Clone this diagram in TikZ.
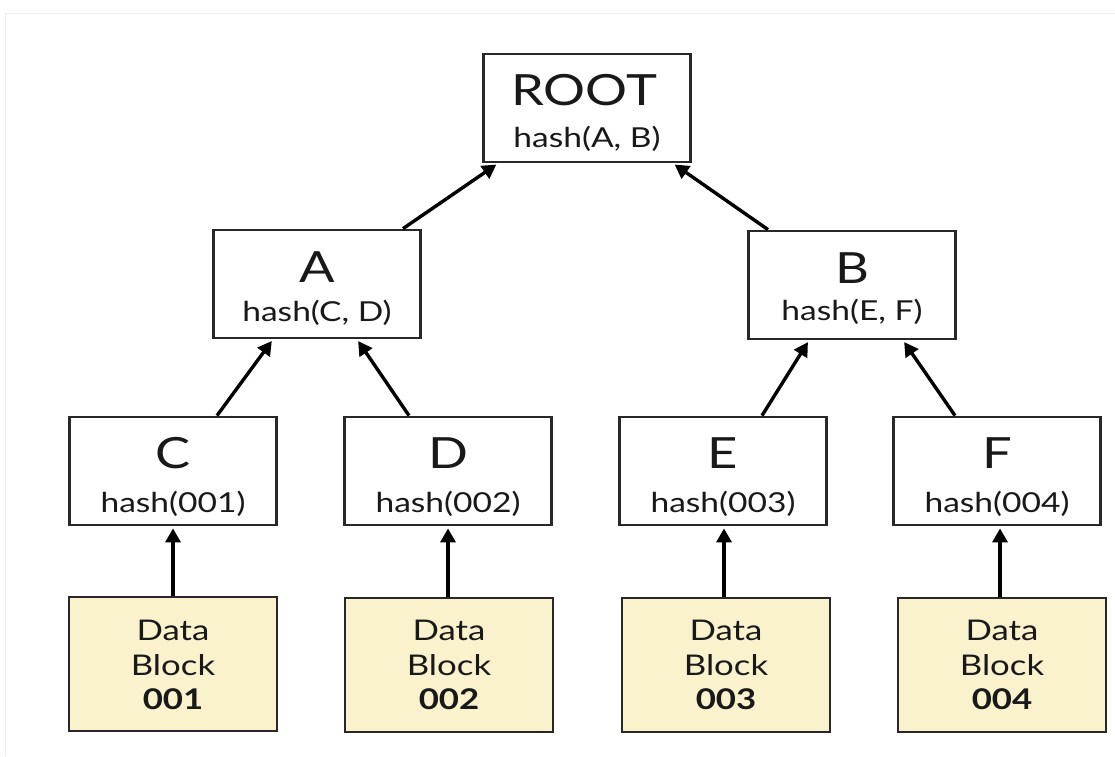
\documentclass[tikz,border=0pt]{standalone}
\usepackage{fontspec}
\setmainfont[FakeStretch=1.22]{Lato}
\usetikzlibrary{arrows.meta}
\definecolor{boxline}{RGB}{40,40,40}
\definecolor{datafill}{RGB}{250,242,204}
\definecolor{txt}{RGB}{25,25,25}
\definecolor{frame}{RGB}{238,238,238}
\tikzset{
  hbox/.style={draw=boxline, line width=2.8pt, fill=white, minimum width=207pt, minimum height=108pt, inner sep=0pt},
  dbox/.style={draw=boxline, line width=2.8pt, fill=datafill, minimum width=208pt, minimum height=134pt, inner sep=0pt},
  bigtxt/.style={anchor=base, inner sep=0pt, text=txt, font=\fontsize{43}{43}\selectfont},
  smalltxt/.style={anchor=base, inner sep=0pt, text=txt, font=\fontsize{27.5}{27.5}\selectfont},
  datatxt/.style={anchor=base, inner sep=0pt, text=txt, font=\fontsize{28.5}{28.5}\selectfont},
  arr/.style={draw=black, line width=3.4pt, -{Triangle[length=14pt,width=15pt]}, shorten >=2pt},
}
\begin{document}
\begin{tikzpicture}[x=1pt,y=-1pt]
\useasboundingbox (0,0) rectangle (1115,756);
\draw[frame, line width=1pt] (5,756) -- (5,13) -- (1115,13);
% hash boxes
\node[hbox] (root) at (587,108) {};
\node[hbox] (a) at (317,284) {};
\node[hbox] (b) at (852,285) {};
\node[hbox] (c) at (173,471) {};
\node[hbox] (d) at (448,471) {};
\node[hbox] (e) at (723,471) {};
\node[hbox] (f) at (997,471) {};
% data boxes
\node[dbox] (d1) at (173,664) {};
\node[dbox] (d2) at (449,665) {};
\node[dbox] (d3) at (726,665) {};
\node[dbox] (d4) at (1002,665) {};
% texts
\node[bigtxt] (troot) at (584,105) {ROOT};
\node[smalltxt] (sroot) at (587,147) {hash(A, B)};
\node[bigtxt] (ta) at (317,282) {A};
\node[smalltxt] (sa) at (317,321) {hash(C, D)};
\node[bigtxt] (tb) at (852,283) {B};
\node[smalltxt] (sb) at (852,320) {hash(E, F)};
\node[bigtxt] (tc) at (173,468) {C};
\node[smalltxt] (sc) at (173,512) {hash(001)};
\node[bigtxt] (td) at (448,468) {D};
\node[smalltxt] (sd) at (448,512) {hash(002)};
\node[bigtxt] (te) at (723,468) {E};
\node[smalltxt] (se) at (723,512) {hash(003)};
\node[bigtxt] (tf) at (997,468) {F};
\node[smalltxt] (sf) at (997,512) {hash(004)};
\foreach \n/\x/\v in {1/173/001,2/449/002,3/726/003,4/1002/004}{
  \node[datatxt] (da\n) at (\x,640) {Data};
  \node[datatxt] (bl\n) at (\x,675) {Block};
  \node[datatxt, font=\fontsize{28.5}{28.5}\selectfont\bfseries] (nu\n) at (\x,709) {\v};
}
% arrows
\draw[arr] (a.north -| 403,0) -- (root.south -| 498,0);
\draw[arr] (b.north -| 768,0) -- (root.south -| 673,0);
\draw[arr] (c.north -| 217,0) -- (a.south -| 273,0);
\draw[arr] (d.north -| 409,0) -- (a.south -| 357,0);
\draw[arr] (e.north -| 762,0) -- (b.south -| 809,0);
\draw[arr] (f.north -| 955,0) -- (b.south -| 903,0);
\draw[arr] (d1.north -| c.south) -- (c.south);
\draw[arr] (d2.north -| 448,0) -- (d.south -| 448,0);
\draw[arr] (d3.north -| 724,0) -- (e.south -| 724,0);
\draw[arr] (d4.north -| 1000,0) -- (f.south -| 1000,0);
\end{tikzpicture}
\end{document}
